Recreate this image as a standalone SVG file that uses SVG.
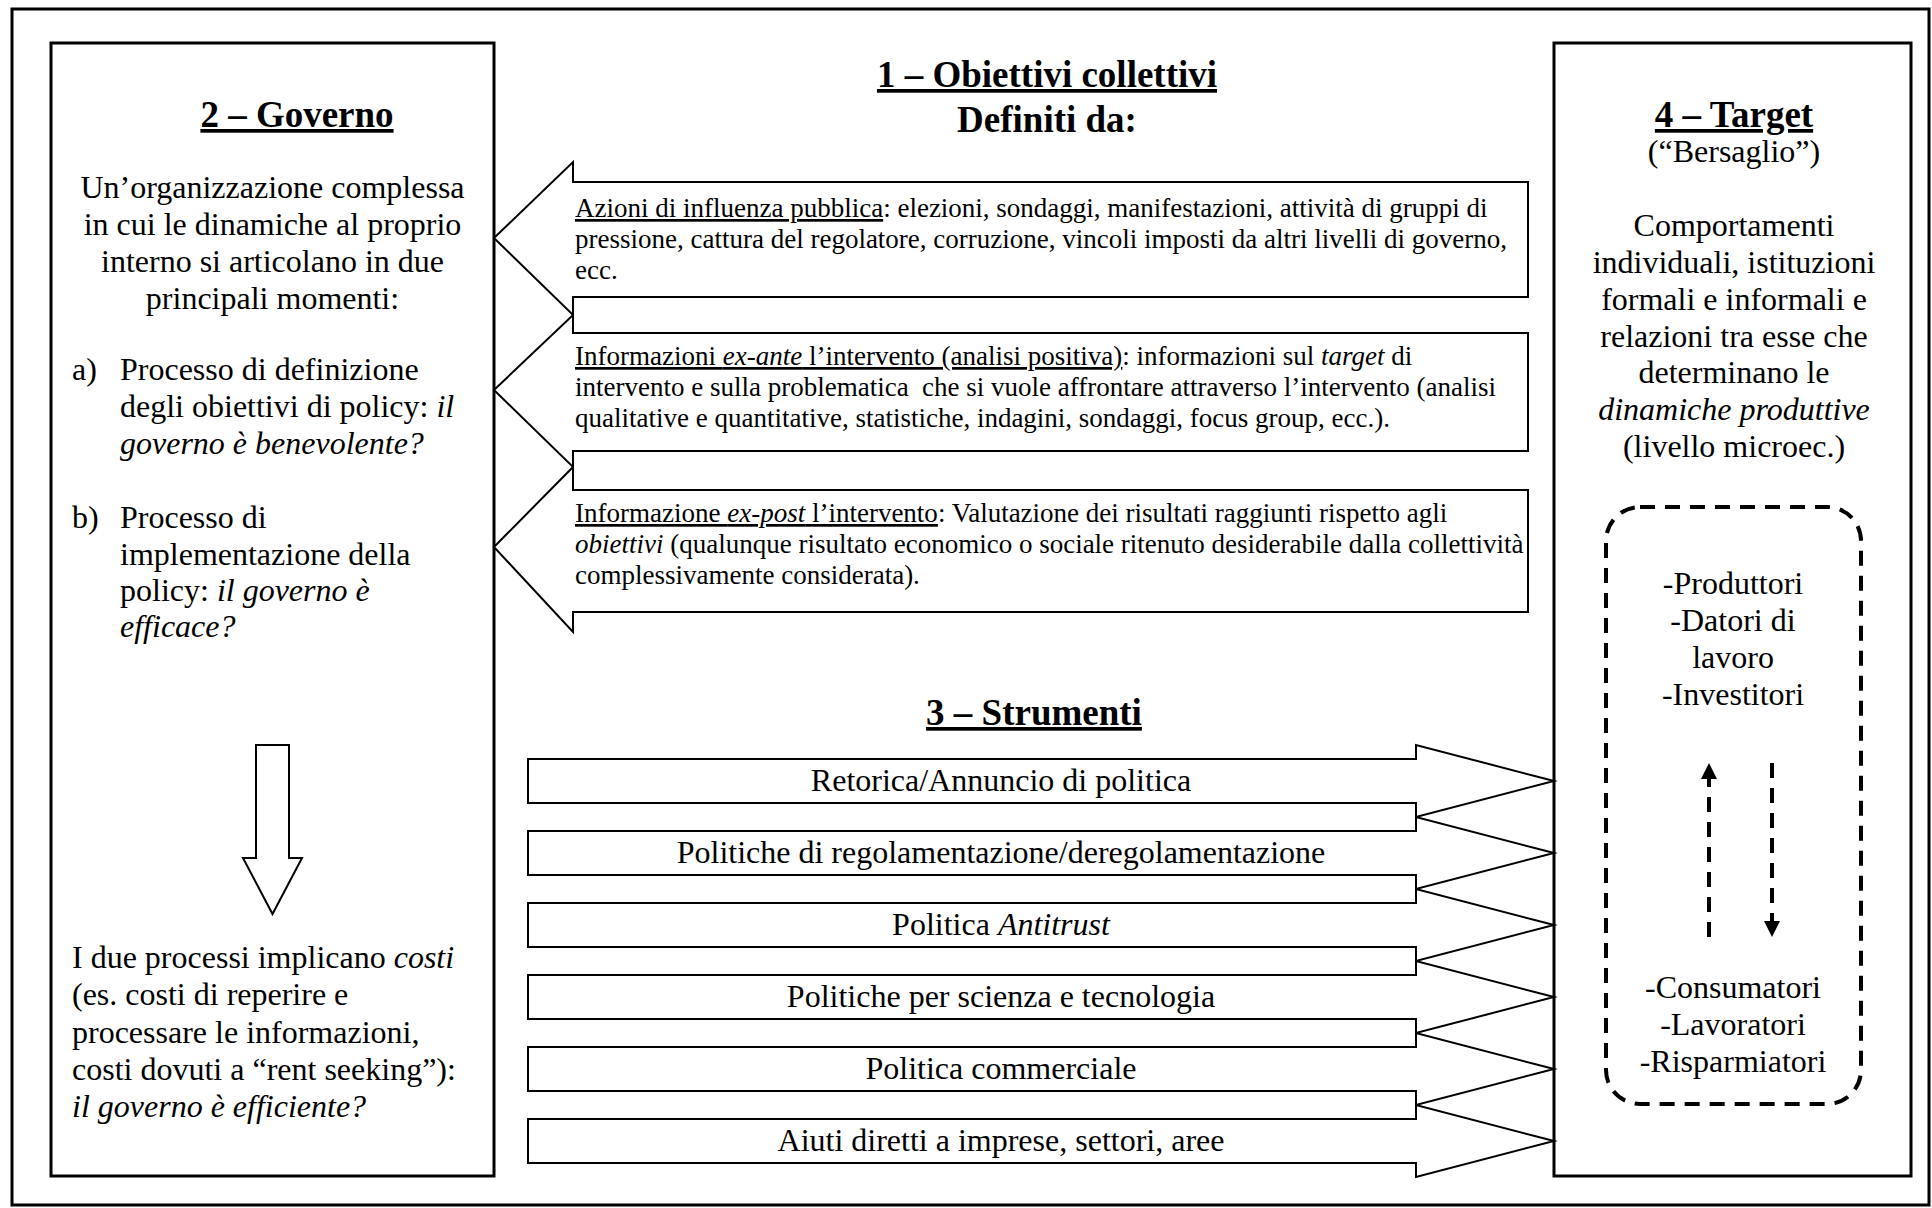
<svg xmlns="http://www.w3.org/2000/svg" width="1932" height="1208" viewBox="0 0 1932 1208">
<style>
.t{font-family:"Liberation Serif","Times New Roman",serif;font-size:32px;fill:#000}
.s{font-size:27px}
.h{font-size:37px;font-weight:bold}
.c{text-anchor:middle}
.i{font-style:italic}
.u{text-decoration:underline}
.frame{fill:none;stroke:#000;stroke-width:3}
.box{fill:#fff;stroke:#000;stroke-width:3}
.barrow{fill:#fff;stroke:#000;stroke-width:2;stroke-linejoin:miter}
.dash{fill:none;stroke:#000;stroke-width:4;stroke-dasharray:15 10}
</style>
<defs>
<marker id="head" markerUnits="userSpaceOnUse" markerWidth="16" markerHeight="16" viewBox="0 0 16 16" refX="0" refY="8" orient="auto">
<path d="M0,0 L16,8 L0,16 Z" fill="#000"/>
</marker>
</defs>
<rect width="1932" height="1208" fill="#fff"/>
<rect id="frame" class="frame" x="12" y="9" width="1917" height="1196"/>

<g id="node-governo">
<rect class="box" x="51" y="43" width="443" height="1133"/>
<text class="t h c u" x="297" y="127">2 – Governo</text>
<text class="t c" x="272.5" y="198">Un’organizzazione complessa</text>
<text class="t c" x="272.5" y="235">in cui le dinamiche al proprio</text>
<text class="t c" x="272.5" y="272">interno si articolano in due</text>
<text class="t c" x="272.5" y="309">principali momenti:</text>
<text class="t" x="72" y="380">a)</text>
<text class="t" x="120" y="380">Processo di definizione</text>
<text class="t" x="120" y="417">degli obiettivi di policy: <tspan class="i">il</tspan></text>
<text class="t i" x="120" y="454">governo è benevolente?</text>
<text class="t" x="72" y="528">b)</text>
<text class="t" x="120" y="528">Processo di</text>
<text class="t" x="120" y="565">implementazione della</text>
<text class="t" x="120" y="601">policy: <tspan class="i">il governo è</tspan></text>
<text class="t i" x="120" y="637">efficace?</text>
<text class="t" x="72" y="968">I due processi implicano <tspan class="i">costi</tspan></text>
<text class="t" x="72" y="1005">(es. costi di reperire e</text>
<text class="t" x="72" y="1043">processare le informazioni,</text>
<text class="t" x="72" y="1080">costi dovuti a “rent seeking”):</text>
<text class="t i" x="72" y="1117">il governo è efficiente?</text>
</g>

<g id="node-target">
<rect class="box" x="1554" y="43" width="357" height="1133"/>
<text class="t h c u" x="1734" y="127">4 – Target</text>
<text class="t c" x="1734" y="162">(“Bersaglio”)</text>
<text class="t c" x="1734" y="236">Comportamenti</text>
<text class="t c" x="1734" y="273">individuali, istituzioni</text>
<text class="t c" x="1734" y="310">formali e informali e</text>
<text class="t c" x="1734" y="347">relazioni tra esse che</text>
<text class="t c" x="1734" y="383">determinano le</text>
<text class="t c i" x="1734" y="420">dinamiche produttive</text>
<text class="t c" x="1734" y="457">(livello microec.)</text>
</g>

<g id="node-agenti">
<rect class="dash" x="1606" y="507" width="255" height="597" rx="34" ry="34"/>
<text class="t c" x="1733" y="594">-Produttori</text>
<text class="t c" x="1733" y="631">-Datori di</text>
<text class="t c" x="1733" y="668">lavoro</text>
<text class="t c" x="1733" y="705">-Investitori</text>
<text class="t c" x="1733" y="998">-Consumatori</text>
<text class="t c" x="1733" y="1035">-Lavoratori</text>
<text class="t c" x="1733" y="1072">-Risparmiatori</text>
</g>

<g id="node-obiettivi">
<text class="t h c u" x="1047" y="87">1 – Obiettivi collettivi</text>
<text class="t h c" x="1047" y="132">Definiti da:</text>
</g>

<g id="node-azioni">
<polygon class="barrow" points="494,238 573,162 573,182 1528,182 1528,297 573,297 573,315"/>
<text class="t s" x="575" y="217"><tspan class="u">Azioni di influenza pubblica</tspan>: elezioni, sondaggi, manifestazioni, attività di gruppi di</text>
<text class="t s" x="575" y="248">pressione, cattura del regolatore, corruzione, vincoli imposti da altri livelli di governo,</text>
<text class="t s" x="575" y="279">ecc.</text>
</g>

<g id="node-exante">
<polygon class="barrow" points="494,390 573,315 573,333 1528,333 1528,451 573,451 573,467"/>
<text class="t s" x="575" y="365"><tspan class="u">Informazioni </tspan><tspan class="u i">ex-ante</tspan><tspan class="u"> l’intervento (analisi positiva)</tspan>: informazioni sul <tspan class="i">target</tspan> di</text>
<text class="t s" x="575" y="396" xml:space="preserve">intervento e sulla problematica  che si vuole affrontare attraverso l’intervento (analisi</text>
<text class="t s" x="575" y="427">qualitative e quantitative, statistiche, indagini, sondaggi, focus group, ecc.).</text>
</g>

<g id="node-expost">
<polygon class="barrow" points="494,547 573,467 573,490 1528,490 1528,612 573,612 573,632"/>
<text class="t s" x="575" y="522"><tspan class="u">Informazione </tspan><tspan class="u i">ex-post</tspan><tspan class="u"> l’intervento</tspan>: Valutazione dei risultati raggiunti rispetto agli</text>
<text class="t s" x="575" y="553"><tspan class="i">obiettivi</tspan> (qualunque risultato economico o sociale ritenuto desiderabile dalla collettività</text>
<text class="t s" x="575" y="584">complessivamente considerata).</text>
</g>

<g id="node-strumenti">
<text class="t h c u" x="1034" y="725">3 – Strumenti</text>
</g>

<g id="node-retorica">
<polygon class="barrow" points="1554,781 1416,745 1416,759 528,759 528,803 1416,803 1416,817"/>
<text class="t c" x="1001" y="791">Retorica/Annuncio di politica</text>
</g>
<g id="node-regolamentazione">
<polygon class="barrow" points="1554,853 1416,817 1416,831 528,831 528,875 1416,875 1416,889"/>
<text class="t c" x="1001" y="863">Politiche di regolamentazione/deregolamentazione</text>
</g>
<g id="node-antitrust">
<polygon class="barrow" points="1554,925 1416,889 1416,903 528,903 528,947 1416,947 1416,961"/>
<text class="t c" x="1001" y="935">Politica <tspan class="i">Antitrust</tspan></text>
</g>
<g id="node-scienza">
<polygon class="barrow" points="1554,997 1416,961 1416,975 528,975 528,1019 1416,1019 1416,1033"/>
<text class="t c" x="1001" y="1007">Politiche per scienza e tecnologia</text>
</g>
<g id="node-commerciale">
<polygon class="barrow" points="1554,1069 1416,1033 1416,1047 528,1047 528,1091 1416,1091 1416,1105"/>
<text class="t c" x="1001" y="1079">Politica commerciale</text>
</g>
<g id="node-aiuti">
<polygon class="barrow" points="1554,1141 1416,1105 1416,1119 528,1119 528,1163 1416,1163 1416,1177"/>
<text class="t c" x="1001" y="1151">Aiuti diretti a imprese, settori, aree</text>
</g>

<g id="connectors">
<polygon class="barrow" points="256,745 289,745 289,858 302,858 272.5,914 243,858 256,858"/>
<line class="dash" x1="1709" y1="937" x2="1709" y2="779" marker-end="url(#head)"/>
<line class="dash" x1="1772" y1="763" x2="1772" y2="921" marker-end="url(#head)"/>
</g>
</svg>
